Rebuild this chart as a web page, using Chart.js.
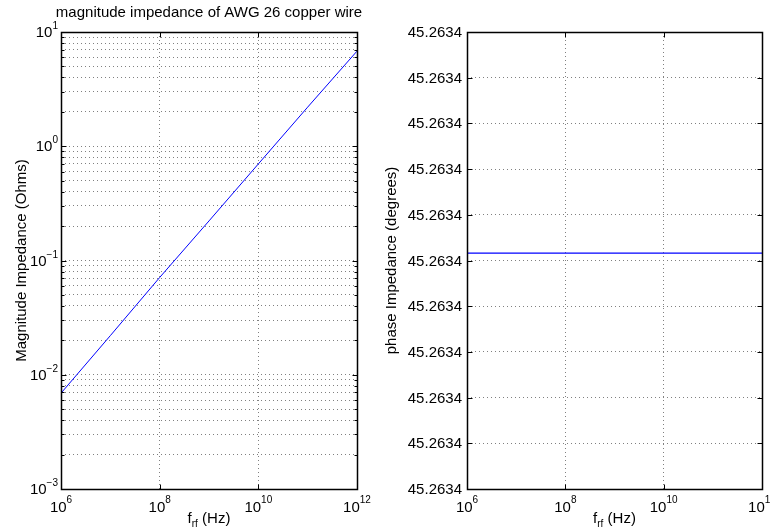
<!DOCTYPE html>
<html><head><meta charset="utf-8">
<script src="https://cdn.jsdelivr.net/npm/chart.js@4/dist/chart.umd.min.js"></script>
<style>
html,body{margin:0;padding:0;background:#fff;width:770px;height:529px;overflow:hidden}
canvas{position:absolute;top:0}
#c1{left:0}#c2{left:380px}
</style></head><body>
<canvas id="c1" width="380" height="529"></canvas>
<canvas id="c2" width="390" height="529"></canvas>
<script>
// ---- data ----
const freqHz = [1e6, 1e7, 1e8, 1e9, 1e10, 1e11, 1e12];
const magnitudeOhms = [0.0069, 0.0220, 0.0710, 0.222, 0.700, 2.20, 6.80];
const phaseDeg = [45.26340516, 45.26340516, 45.26340516, 45.26340516, 45.26340516, 45.26340516, 45.26340516];
const freqTicks = [1e6, 1e8, 1e10, 1e12];
const magDecadeTicks = [1e-3, 1e-2, 1e-1, 1, 10];
const magMinorMult = [2, 3, 4, 5, 6, 7, 8, 9];
const phaseTicks = [45.263400, 45.263401, 45.263402, 45.263403, 45.263404, 45.263405,
                    45.263406, 45.263407, 45.263408, 45.263409, 45.263410];
const titleText = 'magnitude impedance of AWG 26 copper wire';
const magYLabel = 'Magnitude Impedance (Ohms)';
const phaseYLabel = 'phase Impedance (degrees)';

const FONT = '"Liberation Sans", Arial, Helvetica, sans-serif';
const BASE = 15, SMALL = 10;

function magGridValues() {
  const v = [];
  magDecadeTicks.forEach((d, i) => {
    v.push(d);
    if (i < magDecadeTicks.length - 1) magMinorMult.forEach(m => v.push(d * m));
  });
  return v;
}

function drawPow(ctx, exp, x, baseY, align, raise) {
  const e = exp < 0 ? '\u2212' + Math.abs(exp) : String(exp);
  ctx.font = BASE + 'px ' + FONT;
  const wb = ctx.measureText('10').width;
  ctx.font = SMALL + 'px ' + FONT;
  const we = ctx.measureText(e).width;
  let x0 = align === 'center' ? x - (wb + we) / 2 : x - (wb + we);
  ctx.textAlign = 'left';
  ctx.textBaseline = 'alphabetic';
  ctx.font = BASE + 'px ' + FONT;
  ctx.fillText('10', x0, baseY);
  ctx.font = SMALL + 'px ' + FONT;
  ctx.fillText(e, x0 + wb, baseY - raise);
}

function drawXLabel(ctx, cx, baseY) {
  ctx.textAlign = 'left';
  ctx.textBaseline = 'alphabetic';
  ctx.font = BASE + 'px ' + FONT;
  const w1 = ctx.measureText('f').width;
  const w3 = ctx.measureText(' (Hz)').width;
  ctx.font = SMALL + 'px ' + FONT;
  const w2 = ctx.measureText('rf').width;
  let x = cx - (w1 + w2 + w3) / 2;
  ctx.font = BASE + 'px ' + FONT;
  ctx.fillText('f', x, baseY);
  ctx.font = SMALL + 'px ' + FONT;
  ctx.fillText('rf', x + w1, baseY + 4);
  ctx.font = BASE + 'px ' + FONT;
  ctx.fillText(' (Hz)', x + w1 + w2, baseY);
}

function axesPlugin(spec) {
  return {
    id: 'matlabAxes',
    afterDraw(chart) {
      const ctx = chart.ctx, a = chart.chartArea;
      const xs = chart.scales.x, ys = chart.scales.y;
      const L = Math.round(a.left) + 0.5, R = Math.round(a.right) + 0.5;
      const T = Math.round(a.top) + 0.5, B = Math.round(a.bottom) + 0.5;
      ctx.save();
      ctx.strokeStyle = '#000';
      ctx.lineWidth = 1;
      ctx.setLineDash([]);
      // ticks
      ctx.beginPath();
      freqTicks.forEach(v => {
        const px = Math.round(xs.getPixelForValue(v)) + 0.5;
        ctx.moveTo(px, B); ctx.lineTo(px, B - 5);
        ctx.moveTo(px, T); ctx.lineTo(px, T + 5);
      });
      spec.yMajor.forEach(v => {
        const py = Math.round(ys.getPixelForValue(v)) + 0.5;
        ctx.moveTo(L, py); ctx.lineTo(L + 5, py);
        ctx.moveTo(R, py); ctx.lineTo(R - 5, py);
      });
      (spec.yMinor || []).forEach(v => {
        const py = Math.round(ys.getPixelForValue(v)) + 0.5;
        ctx.moveTo(L, py); ctx.lineTo(L + 3, py);
        ctx.moveTo(R, py); ctx.lineTo(R - 3, py);
      });
      ctx.stroke();
      // box
      ctx.lineWidth = 1.5;
      ctx.beginPath();
      ctx.rect(L, T, R - L, B - T);
      ctx.stroke();
      // labels
      ctx.fillStyle = '#000';
      freqTicks.forEach(v => {
        drawPow(ctx, Math.round(Math.log10(v)), xs.getPixelForValue(v), a.bottom + 23, 'center', 9);
      });
      spec.yMajor.forEach(v => {
        const py = ys.getPixelForValue(v);
        if (spec.yLog) {
          drawPow(ctx, Math.round(Math.log10(v)), a.left - 3, py + 5, 'right', 8);
        } else {
          ctx.font = BASE + 'px ' + FONT;
          ctx.textAlign = 'right';
          ctx.textBaseline = 'alphabetic';
          ctx.fillText(v.toFixed(4), a.left - 5, py + 5);
        }
      });
      drawXLabel(ctx, (a.left + a.right) / 2, 523);
      // y label
      ctx.save();
      ctx.translate(spec.yLabelX, (a.top + a.bottom) / 2);
      ctx.rotate(-Math.PI / 2);
      ctx.font = BASE + 'px ' + FONT;
      ctx.textAlign = 'center';
      ctx.textBaseline = 'middle';
      ctx.fillText(spec.yLabel, 0, 0);
      ctx.restore();
      if (spec.title) {
        ctx.font = BASE + 'px ' + FONT;
        ctx.textAlign = 'center';
        ctx.textBaseline = 'alphabetic';
        ctx.fillText(spec.title, (a.left + a.right) / 2, 17);
      }
      ctx.restore();
    }
  };
}

const gridOpts = { color: '#808080', lineWidth: 1, drawTicks: false };
const borderOpts = { display: false, dash: [1, 3] };

function xScale() {
  return {
    type: 'logarithmic', min: 1e6, max: 1e12,
    grid: gridOpts, border: borderOpts,
    ticks: { display: false, autoSkip: false },
    afterBuildTicks: s => { s.ticks = freqTicks.map(v => ({ value: v })); },
    afterFit: s => { s.height = 40; }
  };
}

const common = {
  responsive: false, animation: false, devicePixelRatio: 1,
  plugins: { legend: { display: false }, tooltip: { enabled: false } },
  elements: { point: { radius: 0 }, line: { tension: 0 } }
};

new Chart(document.getElementById('c1'), {
  type: 'line',
  data: { datasets: [{
    data: freqHz.map((f, i) => ({ x: f, y: magnitudeOhms[i] })),
    borderColor: '#0000ff', borderWidth: 1, pointRadius: 0, fill: false
  }] },
  options: Object.assign({}, common, {
    layout: { padding: { top: 32, right: 23, bottom: 0, left: 0 } },
    scales: {
      x: xScale(),
      y: {
        type: 'logarithmic', min: 1e-3, max: 10,
        grid: gridOpts, border: borderOpts,
        ticks: { display: false, autoSkip: false },
        afterBuildTicks: s => { s.ticks = magGridValues().map(v => ({ value: v })); },
        afterFit: s => { s.width = 61; }
      }
    }
  }),
  plugins: [axesPlugin({
    yLog: true, yMajor: magDecadeTicks,
    yMinor: magGridValues().filter(v => magDecadeTicks.indexOf(v) < 0),
    yLabel: magYLabel, yLabelX: 22, title: titleText
  })]
});

new Chart(document.getElementById('c2'), {
  type: 'line',
  data: { datasets: [{
    data: freqHz.map((f, i) => ({ x: f, y: phaseDeg[i] })),
    borderColor: '#0000ff', borderWidth: 1.2, pointRadius: 0, fill: false
  }] },
  options: Object.assign({}, common, {
    layout: { padding: { top: 32, right: 8, bottom: 0, left: 0 } },
    scales: {
      x: xScale(),
      y: {
        type: 'linear', min: phaseTicks[0], max: phaseTicks[phaseTicks.length - 1],
        grid: gridOpts, border: borderOpts,
        ticks: { display: false, autoSkip: false },
        afterBuildTicks: s => { s.ticks = phaseTicks.map(v => ({ value: v })); },
        afterFit: s => { s.width = 87; }
      }
    }
  }),
  plugins: [axesPlugin({
    yLog: false, yMajor: phaseTicks,
    yLabel: phaseYLabel, yLabelX: 12
  })]
});
</script>
</body></html>
